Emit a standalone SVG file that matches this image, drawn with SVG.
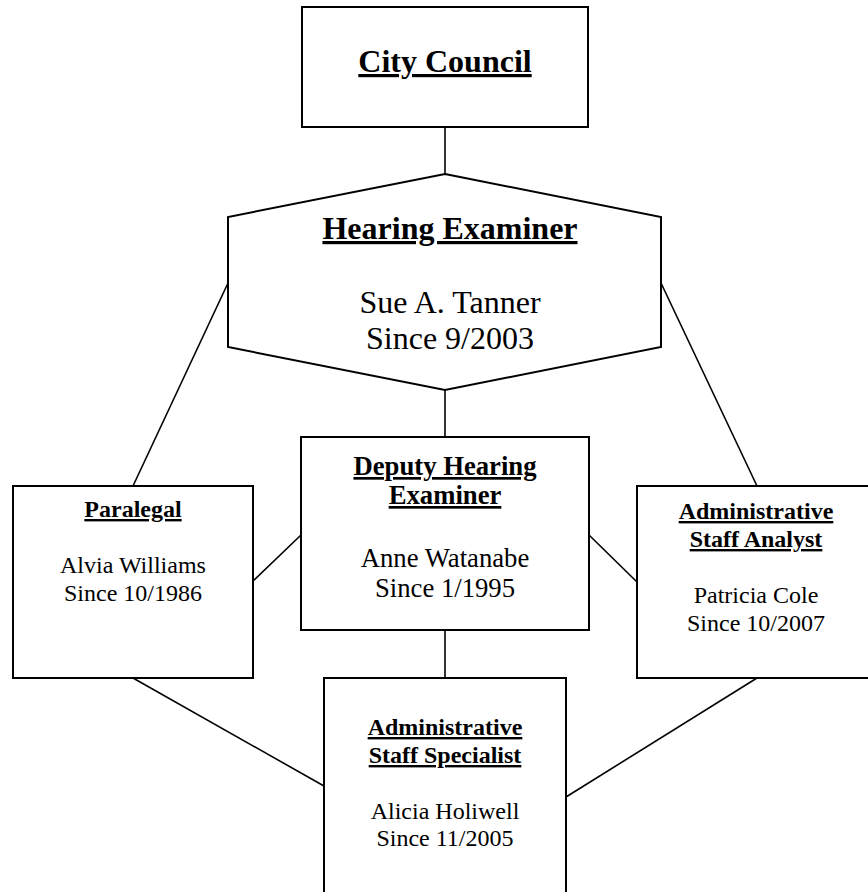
<svg xmlns="http://www.w3.org/2000/svg" width="868" height="892" viewBox="0 0 868 892">
<style>
.box{fill:#fff;stroke:#000;stroke-width:2}
.ln{stroke:#000;stroke-width:1.6;fill:none}
text{font-family:"Liberation Serif","Times New Roman",serif;fill:#000;text-anchor:middle}
.h{font-weight:bold;text-decoration:underline;text-decoration-thickness:0.09em}
.t32{font-size:32px}
.t27{font-size:26.7px}
.t24{font-size:24px}
</style>
<rect width="868" height="892" fill="#fff"/>
<g id="connectors">
<line class="ln" x1="445" y1="127" x2="445" y2="174"/>
<line class="ln" x1="228" y1="283" x2="133" y2="486"/>
<line class="ln" x1="661" y1="283" x2="757" y2="486"/>
<line class="ln" x1="445" y1="390" x2="445" y2="437"/>
<line class="ln" x1="253" y1="581" x2="301" y2="535"/>
<line class="ln" x1="589" y1="535" x2="637" y2="582"/>
<line class="ln" x1="445" y1="630" x2="445" y2="678"/>
<line class="ln" x1="133" y1="678" x2="324" y2="786"/>
<line class="ln" x1="757" y1="678" x2="566" y2="797"/>
</g>
<g id="city-council">
<rect class="box" x="302" y="7" width="286" height="120"/>
<text class="h t32" x="445" y="72">City Council</text>
</g>
<g id="hearing-examiner">
<polygon class="box" points="445,174 661,217 661,347 445,390 228,347 228,217"/>
<text class="h t32" x="450" y="239">Hearing Examiner</text>
<text class="t32" x="450" y="313">Sue A. Tanner</text>
<text class="t32" x="450" y="349">Since 9/2003</text>
</g>
<g id="deputy">
<rect class="box" x="301" y="437" width="288" height="193"/>
<text class="h t27" x="445" y="475">Deputy Hearing</text>
<text class="h t27" x="445" y="504">Examiner</text>
<text class="t27" x="445" y="567">Anne Watanabe</text>
<text class="t27" x="445" y="597">Since 1/1995</text>
</g>
<g id="paralegal">
<rect class="box" x="13" y="486" width="240" height="192"/>
<text class="h t24" x="133" y="517">Paralegal</text>
<text class="t24" x="133" y="573">Alvia Williams</text>
<text class="t24" x="133" y="601">Since 10/1986</text>
</g>
<g id="analyst">
<rect class="box" x="637" y="486" width="240" height="192"/>
<text class="h t24" x="756" y="519">Administrative</text>
<text class="h t24" x="756" y="547">Staff Analyst</text>
<text class="t24" x="756" y="603">Patricia Cole</text>
<text class="t24" x="756" y="631">Since 10/2007</text>
</g>
<g id="specialist">
<rect class="box" x="324" y="678" width="242" height="240"/>
<text class="h t24" x="445" y="735">Administrative</text>
<text class="h t24" x="445" y="763">Staff Specialist</text>
<text class="t24" x="445" y="819">Alicia Holiwell</text>
<text class="t24" x="445" y="846">Since 11/2005</text>
</g>
</svg>
